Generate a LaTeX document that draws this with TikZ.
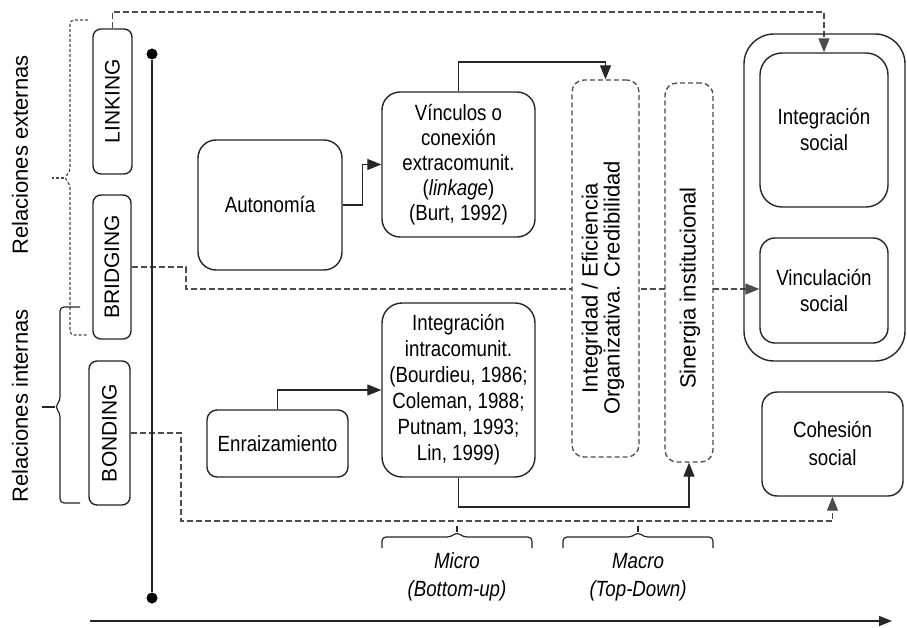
\documentclass[tikz,border=0pt]{standalone}
\usepackage{fontspec}
\usepackage{graphicx}
\setmainfont{Liberation Sans}
\newfontfamily\cf{Liberation Sans}[FakeStretch=0.85]
\usetikzlibrary{arrows.meta}
\pgfdeclarelayer{bg}
\pgfsetlayers{bg,main}
\definecolor{ln}{gray}{0.15}
\definecolor{dl}{gray}{0.3}
\tikzset{
  box/.style={draw=ln, line width=1.4pt, fill=white, rounded corners=#1, inner sep=0pt,
    align=center, font=\cf\fontsize{22}{25}\selectfont},
  box/.default=12pt,
  dbox/.style={draw=dl, line width=1.3pt, fill=white, rounded corners=12pt, inner sep=0pt,
    dash pattern=on 5pt off 3pt},
  vtext/.style={rotate=90, align=center, inner sep=0pt, font=\fontsize{22}{22}\selectfont},
  side/.style={rotate=90, inner sep=0pt, font=\fontsize{22}{24}\selectfont},
  conn/.style={draw=ln, line width=1.3pt, -{Triangle[length=14pt,width=11pt]}},
  dconn/.style={draw=dl, line width=1.3pt, dash pattern=on 6pt off 3pt, -{Triangle[length=14pt,width=11pt]}},
  brace/.style={draw=ln, line width=1.2pt, rounded corners=4pt},
  dbrace/.style={draw=dl, line width=1.2pt, rounded corners=4pt, dash pattern=on 3pt off 2pt},
  dot/.style={circle, fill=black, minimum size=11pt, inner sep=0pt},
  lab/.style={inner sep=0pt, align=center, font=\cf\itshape\fontsize{22}{28}\selectfont}
}
\begin{document}
\begin{tikzpicture}[x=1pt,y=-1pt]
\useasboundingbox (0,0) rectangle (907,628);
\begin{pgfonlayer}{bg}
\fill[white] (0,0) rectangle (907,628);
\end{pgfonlayer}

% side labels
\node[side] (rext) at (20,155) {Relaciones externas};
\node[side] (rint) at (20,406) {Relaciones internas};

% left boxes
\node[box=8pt, minimum width=39, minimum height=145] (linking) at (112.5,101.5) {\rotatebox{90}{\fontsize{21}{21}\selectfont\rmfamily LINKING}};
\node[box=8pt, minimum width=38, minimum height=144] (bridging) at (112,267) {\rotatebox{90}{\fontsize{21}{21}\selectfont\rmfamily BRIDGING}};
\node[box=8pt, minimum width=41, minimum height=144] (bonding) at (109.5,433) {\rotatebox{90}{\fontsize{21}{21}\selectfont\rmfamily BONDING}};

% axis with dots
\node[dot] (dtop) at (152,54) {};
\node[dot] (dbot) at (152,598) {};
\draw[ln, line width=1.4pt] (dtop) -- (dbot);
\coordinate (ax0) at (90,621);
\coordinate (ax1) at (892,621);
\draw[ln, line width=1.4pt, -{Triangle[length=13pt,width=10pt]}] (ax0) -- (ax1);

% middle boxes
\node[box=18pt, minimum width=144, minimum height=130] (auto) at (270,205) {Autonomía};
\node[box=18pt, minimum width=153, minimum height=145] (vinc) at (458.5,164.5)
  {Vínculos o\\conexión\\extracomunit.\\(\textit{linkage})\\(Burt, 1992)};
\node[box=20pt, minimum width=153, minimum height=174, font=\cf\fontsize{22}{26}\selectfont] (intra) at (458.5,390)
  {Integración\\intracomunit.\\(Bourdieu, 1986;\\Coleman, 1988;\\Putnam, 1993;\\Lin, 1999)};
\node[box=10pt, minimum width=141, minimum height=67] (enr) at (277.5,443.5) {Enraizamiento};

% dashed boxes
\node[dbox, minimum width=67, minimum height=377] (integ) at (605.5,268.5) {};
\node[dbox, minimum width=48, minimum height=379] (sin) at (689,272.5) {};
\node[vtext] (integt) at (603,288) {Integridad / Eficiencia\\Organizativa. Credibilidad};
\node[vtext] (sint) at (690,288) {Sinergia institucional};

% right boxes
\node[box=30pt, fill=none, minimum width=161, minimum height=327] (outer) at (824.5,197.5) {};
\node[box=22pt, minimum width=128, minimum height=154, font=\cf\fontsize{22}{26}\selectfont] (intsoc) at (824,130) {Integración\\social};
\node[box=15pt, minimum width=128, minimum height=105, font=\cf\fontsize{22}{26}\selectfont] (vincsoc) at (824,290.5) {Vinculación\\social};
\node[box=15pt, minimum width=141, minimum height=104, font=\cf\fontsize{22}{28}\selectfont] (cohes) at (832.5,444) {Cohesión\\social};

% bottom labels
\node[lab] (micro) at (457,577) {Micro\\(Bottom-up)};
\node[lab] (macro) at (638,577) {Macro\\(Top-Down)};

% helper coordinates
\coordinate (c1) at (500,12);
\coordinate (b1) at (186,289);
\coordinate (d1) at (181,521);
\coordinate (e1) at (500,62);
\coordinate (f1) at (500,507);

\begin{pgfonlayer}{bg}
  \draw[dconn] (linking.north) |- (c1) -| (intsoc.north);
  \draw[dconn] (bridging.east) -| (b1) -- (b1 -| vincsoc.west);
  \draw[dconn] (bonding.east) -| (d1) -| (cohes.south);
  \draw[conn] (auto.east) -- ++(20,0) |- (vinc.west);
  \draw[conn] (vinc.north) |- (e1) -| (integ.north);
  \draw[conn] (enr.north) |- (intra.west);
  \draw[conn] (intra.south) |- (f1) -| (sin.south);
\end{pgfonlayer}

% braces
\draw[dbrace] (88,20) -- (70,20) -- (70,172) -- (64,178) -- (70,184) -- (70,335) -- (88,335);
\draw[dbrace, rounded corners=0pt] (64,178) -- (52,178);
\draw[brace] (80,307) -- (60,307) -- (60,401) -- (55,407) -- (60,413) -- (60,503) -- (80,503);
\draw[brace, rounded corners=0pt] (55,407) -- (42,407);
\draw[brace] (382,548) -- (382,537) -- (451,537) -- (457,532) -- (463,537) -- (532,537) -- (532,548);
\draw[brace, rounded corners=0pt] (457,532) -- (457,526);
\draw[brace] (563,548) -- (563,537) -- (632,537) -- (638,532) -- (644,537) -- (713,537) -- (713,548);
\draw[brace, rounded corners=0pt] (638,532) -- (638,526);
\end{tikzpicture}
\end{document}
